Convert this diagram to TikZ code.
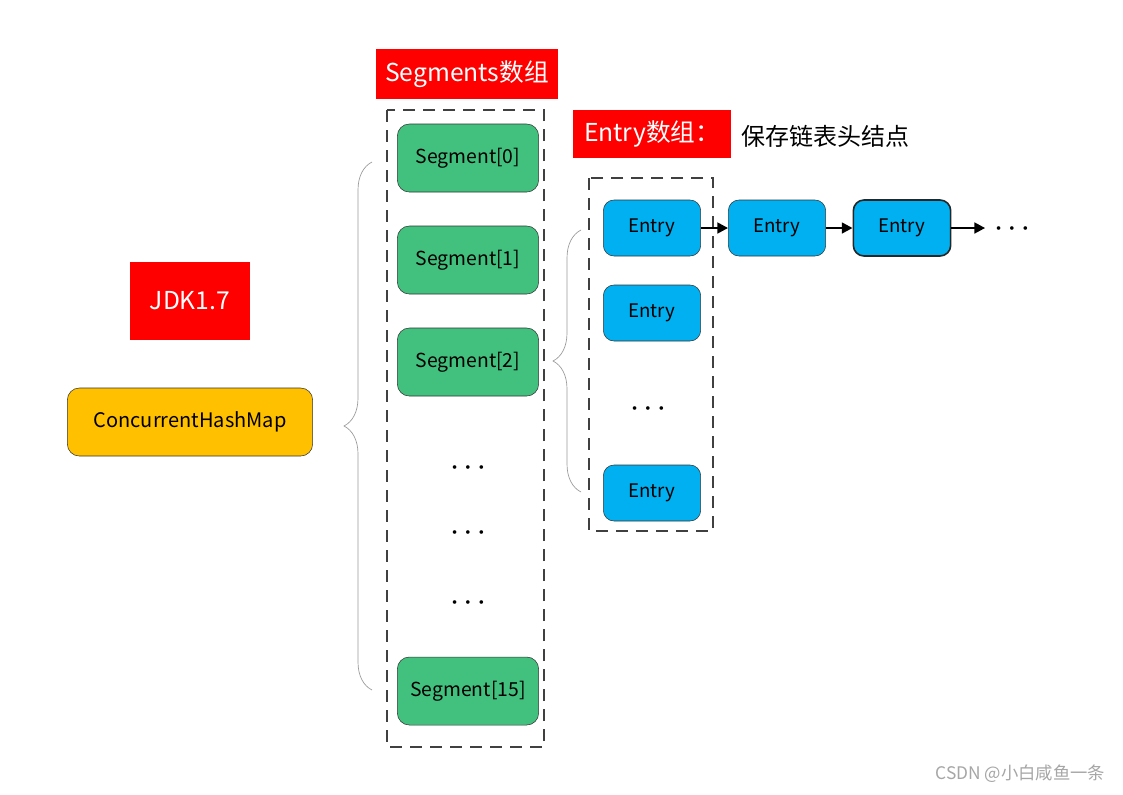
\documentclass[tikz,border=0pt]{standalone}
\usepackage{fontspec}
\setmainfont{Noto Sans CJK SC}
\usetikzlibrary{arrows.meta,decorations.pathreplacing}

\definecolor{segGreen}{HTML}{42C17E}
\definecolor{entryBlue}{HTML}{00B0F0}
\definecolor{mapYellow}{HTML}{FFC000}

\newcommand{\moredots}{$\bullet\hspace{4.5pt}\bullet\hspace{4.5pt}\bullet$}

\begin{document}
\begin{tikzpicture}[
  x=0.75pt,
  y=-0.75pt,
  title/.style={
    fill=red,
    text=white,
    inner sep=0pt,
    font=\fontsize{18.5}{22}\selectfont
  },
  segment/.style={
    draw=black!80,
    fill=segGreen,
    rounded corners=9pt,
    minimum width=106pt,
    minimum height=51pt,
    font=\fontsize{14.5}{17}\selectfont
  },
  entry/.style={
    draw=black!80,
    fill=entryBlue,
    rounded corners=8pt,
    minimum width=73pt,
    minimum height=42pt,
    font=\fontsize{14}{16}\selectfont
  },
  group/.style={draw=black!75, dashed, dash pattern=on 9pt off 6pt, line width=1.1pt},
  dots/.style={font=\fontsize{6}{7}\selectfont, inner sep=2pt},
  brace/.style={draw=black!40, line width=0.5pt,
    decorate, decoration={brace, amplitude=21pt}},
  arrow/.style={-{Triangle[length=8pt,width=8pt]}, line width=1.8pt}
]
\useasboundingbox[fill=white] (0,0) rectangle (1123,794);

% left side
\node[title, minimum width=90pt, minimum height=59pt] (jdk) at (190,301) {JDK1.7};
\node[draw=black!80, fill=mapYellow, rounded corners=9pt,
  minimum width=184pt, minimum height=51pt,
  font=\fontsize{15}{18}\selectfont] (map) at (190,422) {ConcurrentHashMap};

% segments array
\node[title, minimum width=137pt, minimum height=37pt] (segtitle) at (467,74) {Segments数组};
\draw[group] (387,110) rectangle (544,747);
\node[segment] (seg0) at (468,158) {Segment[0]};
\node[segment] (seg1) at (468,260) {Segment[1]};
\node[segment] (seg2) at (468,362) {Segment[2]};
\node[dots] (dots1) at (468,468) {\moredots};
\node[dots] (dots2) at (468,533) {\moredots};
\node[dots] (dots3) at (468,603) {\moredots};
\node[segment] (seg15) at (468,691) {Segment[15]};
\draw[brace] (372,690) -- (372,162);

% entry array
\node[title, minimum width=118pt, minimum height=36pt] (entrytitle) at (652,134) {Entry数组：};
\node[anchor=west, font=\fontsize{18}{21}\selectfont] (note) at (737,136) {保存链表头结点};
\draw[group] (589,178) rectangle (713,531);
\node[entry] (e0) at (652,228) {Entry};
\node[entry] (e1) at (652,313) {Entry};
\node[dots] (dots4) at (648,409) {\moredots};
\node[entry] (e15) at (652,493) {Entry};
\draw[brace] (581,492) -- (581,230);

% linked list
\node[entry] (n1) at (777,228) {Entry};
\node[entry, draw=black!85, line width=1.2pt] (n2) at (902,228) {Entry};
\node[dots, inner sep=8pt] (dots5) at (1012,229) {\moredots};
\draw[arrow] (e0) -- (n1);
\draw[arrow] (n1) -- (n2);
\draw[arrow] (n2.east) -- (n2.east -| dots5.west);

\node[text=black!35, anchor=east, font=\fontsize{13}{15}\selectfont] (mark) at (1110,774) {CSDN @小白咸鱼一条};
\end{tikzpicture}
\end{document}
